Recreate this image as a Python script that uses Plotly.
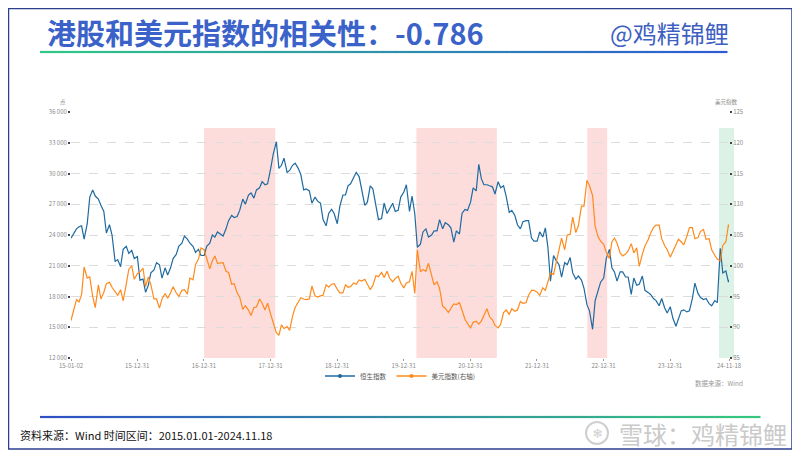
import pandas as pd
import plotly.graph_objects as go

# semi-monthly sample dates (1st / 15th), last point is the end date of the window
DATES = list(pd.date_range("2015-01-01", "2024-11-15", freq="SMS")) + [pd.Timestamp("2024-11-18")]
DATES[0] = pd.Timestamp("2015-01-02")

HSI = (
    [23700, 24100, 24600, 24800, 24900, 23600, 25100, 27700, 28400, 27800, 27500, 26900,
     26300, 24200, 25000, 24000, 21400, 21600, 20900, 22600, 22900, 22200, 22500, 21700]
    + [21900, 19600, 19700, 18400, 19100, 20300, 20600, 21300, 21100, 19800, 20800, 20100,
       20800, 21700, 22100, 22900, 23200, 23900, 23600, 23200, 22900, 22300, 22600, 22000]
    + [22000, 22900, 23200, 24000, 23800, 24300, 24100, 23900, 24600, 25400, 25900, 25700,
       25800, 26400, 27500, 27000, 27900, 28100, 27600, 28400, 28600, 29200, 28900, 29000]
    + [30500, 31900, 33100, 30500, 30800, 31500, 30100, 30300, 30800, 31000, 30500, 29900,
       28400, 28500, 28300, 27100, 27700, 27300, 27100, 25500, 24900, 26100, 26500, 26100]
    + [25100, 26800, 27900, 27900, 28800, 29000, 29600, 30100, 29700, 28300, 26900, 27200,
       28800, 28500, 27000, 25500, 25600, 27100, 26100, 26600, 27100, 26300, 26400, 27700]
    + [28200, 28900, 26300, 27800, 26100, 22800, 23100, 24300, 24600, 23800, 24000, 24400,
       24400, 25500, 24600, 25200, 25000, 24700, 23300, 24400, 24100, 26100, 26500, 26400]
    + [27200, 28600, 28300, 30900, 29500, 28900, 28900, 28800, 28700, 28000, 29200, 28600,
       28800, 27800, 26200, 26400, 25900, 25000, 24600, 25300, 25400, 25400, 23700, 23400]
    + [23400, 24300, 23800, 24700, 22800, 19500, 22000, 21500, 21100, 19900, 21300, 21100,
       21800, 20300, 19700, 20000, 19600, 18800, 17200, 16600, 14800, 17600, 18600, 19400]
    + [19800, 21700, 22600, 20800, 20400, 19500, 20400, 20400, 19900, 19900, 18200, 19800,
       19100, 19200, 20000, 18600, 18400, 18200, 17800, 17600, 17100, 17800, 16900, 16400]
    + [17000, 15900, 15100, 15900, 16600, 16700, 16500, 16600, 17800, 19300, 18300, 17900,
       17700, 17800, 17300, 17100, 17600, 17400, 22700, 20300, 20500, 19400, 19600]
)

DXY = (
    [91.1, 92.4, 94.5, 94.1, 95.3, 99.8, 98.0, 98.2, 95.0, 93.2, 96.9, 94.6,
     95.7, 97.1, 97.3, 96.5, 95.7, 95.2, 96.1, 94.3, 97.0, 99.4, 100.0, 97.8]
    + [98.7, 99.0, 99.6, 96.6, 98.2, 96.9, 94.6, 94.6, 93.1, 94.6, 95.5, 94.7,
       95.6, 96.6, 95.6, 95.0, 96.0, 96.1, 95.4, 98.0, 97.7, 100.2, 101.1, 102.9]
    + [102.6, 101.2, 99.5, 100.8, 101.6, 100.4, 100.4, 100.5, 99.1, 98.9, 97.0, 97.1,
       95.6, 94.9, 92.9, 93.5, 92.8, 91.9, 93.2, 93.3, 94.6, 93.9, 92.8, 93.9]
    + [92.1, 90.6, 89.1, 88.7, 90.4, 89.8, 90.1, 89.5, 91.8, 93.2, 94.0, 94.8,
       94.6, 94.5, 94.6, 96.7, 95.1, 94.9, 95.1, 95.2, 96.9, 96.5, 97.0, 97.1]
    + [96.2, 95.6, 95.6, 96.9, 96.5, 96.6, 97.2, 97.0, 97.7, 97.5, 97.8, 97.0,
       96.1, 96.8, 98.4, 98.2, 98.9, 98.1, 99.1, 98.0, 97.4, 97.9, 98.3, 97.2]
    + [96.4, 97.2, 97.4, 99.1, 95.5, 102.6, 99.0, 99.4, 99.1, 100.4, 98.4, 96.9,
       97.4, 96.3, 93.4, 93.1, 92.4, 93.1, 93.8, 93.7, 94.0, 92.8, 91.3, 90.6]
    + [89.9, 90.8, 91.0, 90.5, 91.0, 91.9, 93.0, 91.7, 91.2, 90.3, 89.9, 90.5,
       92.4, 92.8, 92.1, 93.0, 92.6, 92.8, 94.2, 93.9, 94.0, 95.2, 96.0, 96.0]
    + [95.7, 95.2, 96.4, 96.0, 97.4, 98.8, 98.6, 100.5, 103.0, 104.5, 102.6, 105.0,
       105.1, 107.9, 105.4, 106.5, 109.7, 109.7, 113.9, 113.0, 111.4, 106.4, 104.7, 104.0]
    + [103.5, 102.2, 101.2, 103.9, 104.5, 103.7, 102.1, 101.6, 101.9, 102.4, 103.6, 102.1,
       102.9, 99.9, 101.9, 103.2, 104.2, 105.3, 106.2, 106.6, 106.6, 104.4, 103.3, 102.6]
    + [101.4, 102.4, 103.5, 104.3, 103.9, 103.4, 104.8, 106.2, 106.2, 104.4, 104.6, 105.6,
       105.9, 104.3, 104.4, 102.6, 101.7, 101.1, 100.8, 103.3, 103.9, 106.7, 106.3]
)

TICK_DATES = ["2015-01-02", "2015-12-31", "2016-12-31", "2017-12-31", "2018-12-31", "2019-12-31",
              "2020-12-31", "2021-12-31", "2022-12-31", "2023-12-31", "2024-11-18"]
TICK_TEXT = ["15-01-02", "15-12-31", "16-12-31", "17-12-31", "18-12-31", "19-12-31",
             "20-12-31", "21-12-31", "22-12-31", "23-12-31", "24-11-18"]

RED_PERIODS = [("2016-12-31", "2018-01-26"), ("2020-03-10", "2021-05-25"), ("2022-10-03", "2023-01-20")]
GREEN_START = "2024-09-24"

W, H = 800, 457
OFF = 8  # page body margin, the figure is drawn 8px in from the window corner
L, R, T, B = 71 - OFF, 729 - OFF, 112 - OFF, 358 - OFF  # plot area in figure pixels
FONT = "Noto Sans CJK SC"
BLUE = "#1f6aa0"
ORANGE = "#ff8a1c"


def px(x):
    # screen x -> paper
    return (x - OFF - L) / (R - L)


def py(y):
    # screen y -> paper
    return (B - (y - OFF)) / (B - T)


def mix(c1, c2, t):
    a = [int(c1[i:i + 2], 16) for i in (1, 3, 5)]
    b = [int(c2[i:i + 2], 16) for i in (1, 3, 5)]
    return "rgb({},{},{})".format(*[round(a[k] + (b[k] - a[k]) * t) for k in range(3)])


def gradient_line(x0, x1, y, c0, c1, n=60, width=2.2):
    out = []
    step = (x1 - x0) / n
    for i in range(n):
        out.append(dict(type="line", xref="paper", yref="paper",
                        x0=px(x0 + i * step), x1=px(x0 + (i + 1) * step + 0.5), y0=py(y), y1=py(y),
                        line=dict(color=mix(c0, c1, i / (n - 1)), width=width), layer="above"))
    return out


fig = go.Figure()
fig.add_trace(go.Scatter(x=DATES, y=HSI, mode="lines", line=dict(color=BLUE, width=1.2),
                         showlegend=False, yaxis="y"))
fig.add_trace(go.Scatter(x=DATES, y=DXY, mode="lines", line=dict(color=ORANGE, width=1.2),
                         showlegend=False, yaxis="y2"))
# legend entries (line with dot)
fig.add_trace(go.Scatter(x=[None], y=[None], mode="lines+markers", name="恒生指数",
                         line=dict(color=BLUE, width=1.5), marker=dict(size=4, color=BLUE)))
fig.add_trace(go.Scatter(x=[None], y=[None], mode="lines+markers", name="美元指数(右轴)",
                         line=dict(color=ORANGE, width=1.5), marker=dict(size=4, color=ORANGE)))

shapes = []
for s, e in RED_PERIODS:
    shapes.append(dict(type="rect", xref="x", yref="y", x0=s, x1=e, y0=12000, y1=34450,
                       fillcolor="#fddcdc", line=dict(width=0), layer="below"))
shapes.append(dict(type="rect", xref="x", yref="y", x0=GREEN_START, x1="2024-11-18", y0=12000, y1=34450,
                   fillcolor="#dcf2e6", line=dict(width=0), layer="below"))
shapes.append(dict(type="rect", xref="paper", yref="y", x0=1, x1=px(734), y0=12000, y1=34450,
                   fillcolor="#dcf2e6", line=dict(width=0), layer="below"))
# frame
shapes.append(dict(type="rect", xref="paper", yref="paper", x0=px(8.5), x1=px(792), y0=py(449), y1=py(8.5),
                   line=dict(color="#2c3f8f", width=1.5), fillcolor="rgba(0,0,0,0)", layer="above"))
shapes += gradient_line(40, 727, 52, "#2fc785", "#2e5bd3")
shapes += gradient_line(40, 760, 417, "#2e50c6", "#36c77e")
# snowball logo circle
shapes.append(dict(type="circle", xref="paper", yref="paper", x0=px(586), x1=px(608), y0=py(444), y1=py(422),
                   line=dict(color="#cfcfcf", width=2), layer="above"))

annotations = [
    dict(text="<b>港股和美元指数的相关性：-0.786</b>", x=px(45), y=py(32), xref="paper", yref="paper",
         xanchor="left", yanchor="middle", showarrow=False, font=dict(family=FONT, size=29, color="#3a62c9")),
    dict(text="@鸡精锦鲤", x=px(731), y=py(32), xref="paper", yref="paper", xanchor="right", yanchor="middle",
         showarrow=False, font=dict(family=FONT, size=24, color="#3d5fc2")),
    dict(text="点", x=px(63), y=py(102), xref="paper", yref="paper", xanchor="center", yanchor="middle",
         showarrow=False, font=dict(family=FONT, size=5.5, color="#888888")),
    dict(text="美元指数", x=px(740), y=py(102), xref="paper", yref="paper", xanchor="right", yanchor="middle",
         showarrow=False, font=dict(family=FONT, size=5.5, color="#888888")),
    dict(text="数据来源：Wind", x=px(745), y=py(383), xref="paper", yref="paper", xanchor="right",
         yanchor="middle", showarrow=False, font=dict(family=FONT, size=6.5, color="#999999")),
    dict(text="资料来源：Wind 时间区间：2015.01.01-2024.11.18", x=px(18), y=py(435), xref="paper", yref="paper",
         xanchor="left", yanchor="middle", showarrow=False, font=dict(family=FONT, size=11, color="#111111")),
    dict(text="雪球：鸡精锦鲤", x=px(789), y=py(433), xref="paper", yref="paper", xanchor="right",
         yanchor="middle", showarrow=False, font=dict(family=FONT, size=24, color="#cacaca")),
    dict(text="❄", x=px(597), y=py(433), xref="paper", yref="paper", xanchor="center",
         yanchor="middle", showarrow=False, font=dict(family="DejaVu Sans", size=13, color="#cfcfcf")),
]

tickfont = dict(family=FONT, size=6, color="#8a8a8a")
fig.update_layout(
    width=W, height=H,
    margin=dict(l=L, r=W - R, t=T, b=H - B, pad=0),
    paper_bgcolor="white", plot_bgcolor="white",
    separators=". ",
    font=dict(family=FONT),
    showlegend=True,
    legend=dict(orientation="h", x=0.5, xanchor="center", y=py(376), yanchor="middle",
                font=dict(family=FONT, size=6.5, color="#555555"), itemwidth=30, bgcolor="rgba(0,0,0,0)"),
    xaxis=dict(type="date", range=["2015-01-02", "2024-11-18"], tickvals=TICK_DATES, ticktext=TICK_TEXT,
               showgrid=False, zeroline=False, showline=False, ticks="outside", ticklen=2, tickwidth=1,
               tickcolor="#999999", tickfont=tickfont),
    yaxis=dict(range=[12000, 36000], dtick=3000, tickformat=",d", showgrid=True, gridcolor="#dcdcdc",
               griddash="dash", gridwidth=1, zeroline=False, showline=False, ticks="outside", ticklen=2,
               tickwidth=2, tickcolor="#444444", tickfont=tickfont),
    yaxis2=dict(range=[85, 125], dtick=5, overlaying="y", side="right", showgrid=False, zeroline=False,
                showline=False, ticks="outside", ticklen=2, tickwidth=2, tickcolor="#444444", tickfont=tickfont),
    shapes=shapes,
    annotations=annotations,
)

fig.write_html("out.html")
